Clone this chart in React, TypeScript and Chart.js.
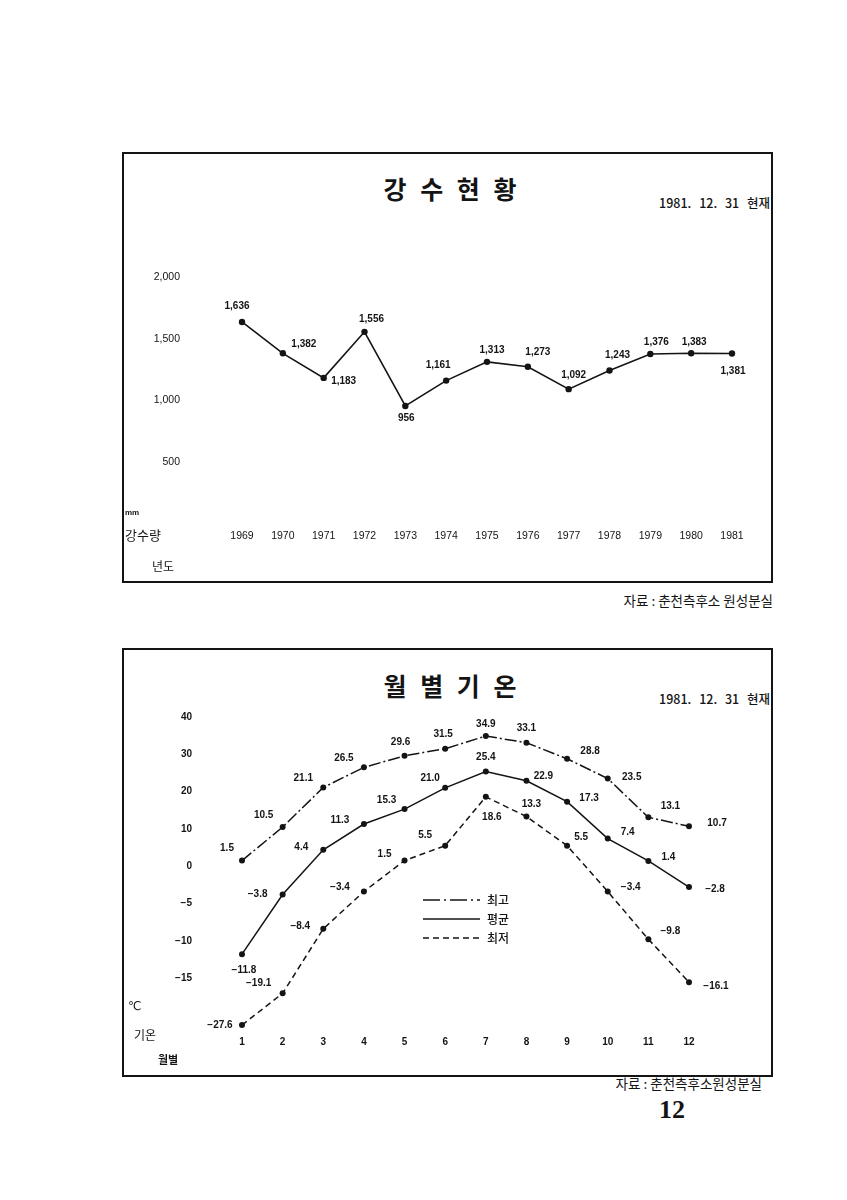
import React, { useEffect, useRef } from 'react';
import { Chart, registerables, LinearScale } from 'chart.js';

Chart.register(...registerables);

// ---------- Data: precipitation (강수현황) ----------
const years = ['1969', '1970', '1971', '1972', '1973', '1974', '1975', '1976', '1977', '1978', '1979', '1980', '1981'];
const rainfall = [1636, 1382, 1183, 1556, 956, 1161, 1313, 1273, 1092, 1243, 1376, 1383, 1381];
const rainTicks = [500, 1000, 1500, 2000];

// ---------- Data: monthly temperature (월별기온) ----------
const months = ['1', '2', '3', '4', '5', '6', '7', '8', '9', '10', '11', '12'];
const tempMax = [1.5, 10.5, 21.1, 26.5, 29.6, 31.5, 34.9, 33.1, 28.8, 23.5, 13.1, 10.7];
const tempMean = [-11.8, -3.8, 4.4, 11.3, 15.3, 21.0, 25.4, 22.9, 17.3, 7.4, 1.4, -2.8];
const tempMin = [-27.6, -19.1, -8.4, -3.4, 1.5, 5.5, 18.6, 13.3, 5.5, -3.4, -9.8, -16.1];
const tempSeriesNames = ['최고', '평균', '최저'];
const tempTicks = [40, 30, 20, 10, 0, -5, -10, -15];
const tempAxisMin = -30;

// ---------- Label placement (offsets from each point, px) ----------
const rainLabelOffsets: [number, number][] = [
  [-5, -16], [21, -9], [20, 3], [7, -13], [1, 12], [-8, -15], [5, -12], [10, -15], [5, -14], [8, -15], [6, -12], [3, -11], [1, 18],
];
const maxLabelOffsets: [number, number][] = [
  [-15, -12], [-19, -12], [-20, -9], [-20, -9], [-4, -14], [-2, -14], [0, -12], [0, -14], [23, -8], [24, -1], [22, -11], [28, -3],
];
const meanLabelOffsets: [number, number][] = [
  [2, 16], [-25, 0], [-22, -3], [-24, -4], [-18, -9], [-15, -10], [0, -14], [17, -5], [22, -3], [20, -6], [20, -4], [26, 2],
];
const minLabelOffsets: [number, number][] = [
  [-22, 0], [-24, -10], [-23, -3], [-24, -4], [-20, -6], [-20, -10], [6, 20], [5, -12], [14, -8], [23, -4], [22, -8], [27, 4],
];

const INK = '#141414';
const NUM_FONT = "'Liberation Sans', 'DejaVu Sans', sans-serif";
const KR_FONT = "'Noto Sans CJK KR', 'Noto Sans', sans-serif";

// Axis with equal spacing per labelled tick (10 per step above zero, 5 below)
const tempBreaks = [tempAxisMin, ...[...tempTicks].sort((a, b) => a - b)];
const tempWeights = tempBreaks.slice(1).map((_, i) => (i === 0 ? 1.5 : 1));

class SteppedScale extends LinearScale {
  static id = 'stepped';
  static defaults = { ticks: { callback: (v: any) => String(v) } };
  determineDataLimits() {
    (this as any).min = tempBreaks[0];
    (this as any).max = tempBreaks[tempBreaks.length - 1];
  }
  buildTicks() {
    return tempTicks.map((v) => ({ value: v })) as any;
  }
  toDecimal(v: number) {
    const b = tempBreaks;
    const w = tempWeights;
    const total = w.reduce((a, c) => a + c, 0);
    let i = 0;
    while (i < b.length - 2 && v > b[i + 1]) i++;
    let cum = 0;
    for (let k = 0; k < i; k++) cum += w[k];
    const frac = (v - b[i]) / (b[i + 1] - b[i]);
    return (cum + w[i] * frac) / total;
  }
  fromDecimal(d: number) {
    const b = tempBreaks;
    const w = tempWeights;
    const total = w.reduce((a, c) => a + c, 0);
    let t = d * total;
    let i = 0;
    while (i < w.length - 1 && t > w[i]) {
      t -= w[i];
      i++;
    }
    return b[i] + (t / w[i]) * (b[i + 1] - b[i]);
  }
  getPixelForValue(value: any) {
    if (value === null || value === undefined || isNaN(value)) return NaN;
    return this.getPixelForDecimal(this.toDecimal(Number(value)));
  }
  getValueForPixel(pixel: number) {
    return this.fromDecimal(this.getDecimalForPixel(pixel));
  }
}
Chart.register(SteppedScale as any);

function fmtTemp(v: number) {
  const s = Math.abs(v).toFixed(1);
  return v < 0 ? '−' + s : s;
}

function makeLabelPlugin(offsets: [number, number][][], fmt: (v: number) => string, font: string) {
  return {
    id: 'pointLabels',
    afterDatasetsDraw(chart: any) {
      const ctx = chart.ctx;
      ctx.save();
      ctx.font = font;
      ctx.fillStyle = INK;
      ctx.textAlign = 'center';
      ctx.textBaseline = 'middle';
      chart.data.datasets.forEach((ds: any, di: number) => {
        const meta = chart.getDatasetMeta(di);
        meta.data.forEach((pt: any, i: number) => {
          const [dx, dy] = offsets[di][i];
          ctx.fillText(fmt(ds.data[i]), pt.x + dx, pt.y + dy);
        });
      });
      ctx.restore();
    },
  };
}

const tempLegendPlugin = {
  id: 'tempLegend',
  afterDatasetsDraw(chart: any) {
    const ctx = chart.ctx;
    const area = chart.chartArea;
    const x0 = area.left + 181;
    const y0 = area.top + 183;
    ctx.save();
    chart.data.datasets.forEach((ds: any, i: number) => {
      const y = y0 + i * 19;
      ctx.beginPath();
      ctx.setLineDash(ds.legendDash || ds.borderDash || []);
      ctx.lineWidth = 1.5;
      ctx.strokeStyle = INK;
      ctx.moveTo(x0, y);
      ctx.lineTo(x0 + 57, y);
      ctx.stroke();
      ctx.setLineDash([]);
      ctx.fillStyle = INK;
      ctx.font = `500 12px ${KR_FONT}`;
      ctx.textAlign = 'left';
      ctx.textBaseline = 'middle';
      ctx.fillText(ds.label, x0 + 64, y);
    });
    ctx.restore();
  },
};

function ChartCanvas({ makeConfig, left, top, width, height }: any) {
  const ref = useRef<HTMLCanvasElement>(null);
  useEffect(() => {
    const chart = new Chart(ref.current as HTMLCanvasElement, makeConfig());
    return () => chart.destroy();
  }, []);
  return (
    <canvas
      ref={ref}
      width={width}
      height={height}
      style={{ position: 'absolute', left, top, width, height }}
    />
  );
}

function fixAxis(width: number) {
  return (s: any) => {
    s.width = width;
    s.paddingTop = 0;
    s.paddingBottom = 0;
  };
}

function rainConfig(): any {
  return {
    type: 'line',
    data: {
      labels: years,
      datasets: [
        {
          label: '강수량',
          data: rainfall,
          borderColor: INK,
          borderWidth: 1.6,
          pointRadius: 3.2,
          pointBackgroundColor: INK,
          pointBorderWidth: 0,
          tension: 0,
          clip: false,
        },
      ],
    },
    options: {
      responsive: false,
      animation: false,
      events: [],
      layout: { padding: { top: 15, right: 38, bottom: 0, left: 0 } },
      plugins: { legend: { display: false }, tooltip: { enabled: false } },
      scales: {
        x: {
          type: 'category',
          offset: false,
          grid: { display: false, drawTicks: false },
          border: { display: false },
          ticks: { padding: 6, color: INK, autoSkip: false, maxRotation: 0, font: { family: NUM_FONT, size: 10.5 } },
          afterFit: (s: any) => { s.height = 28; },
        },
        y: {
          min: 0,
          max: 2000,
          grid: { display: false, drawTicks: false },
          border: { display: false },
          afterBuildTicks: (s: any) => { s.ticks = rainTicks.map((v) => ({ value: v })); },
          ticks: {
            padding: 62,
            color: INK,
            font: { family: NUM_FONT, size: 10.5 },
            callback: (v: any) => Number(v).toLocaleString('en-US'),
          },
          afterFit: fixAxis(112),
        },
      },
    },
    plugins: [makeLabelPlugin([rainLabelOffsets], (v) => v.toLocaleString('en-US'), `bold 10px ${NUM_FONT}`)],
  };
}

function tempConfig(): any {
  const base = {
    borderColor: INK,
    borderWidth: 1.5,
    pointRadius: 3,
    pointBackgroundColor: INK,
    pointBorderWidth: 0,
    tension: 0,
    clip: false,
  };
  return {
    type: 'line',
    data: {
      labels: months,
      datasets: [
        { ...base, label: tempSeriesNames[0], data: tempMax, borderDash: [12, 3, 2, 3], legendDash: [17, 4, 2, 4] },
        { ...base, label: tempSeriesNames[1], data: tempMean },
        { ...base, label: tempSeriesNames[2], data: tempMin, borderDash: [6, 4] },
      ],
    },
    options: {
      responsive: false,
      animation: false,
      events: [],
      layout: { padding: { top: 17, right: 66, bottom: 0, left: 0 } },
      plugins: { legend: { display: false }, tooltip: { enabled: false } },
      scales: {
        x: {
          type: 'category',
          offset: false,
          grid: { display: false, drawTicks: false },
          border: { display: false },
          ticks: { padding: 2, color: INK, autoSkip: false, maxRotation: 0, font: { family: NUM_FONT, size: 10, weight: 'bold' } },
          afterFit: (s: any) => { s.height = 26; },
        },
        y: {
          type: 'stepped',
          grid: { display: false, drawTicks: false },
          border: { display: false },
          ticks: {
            padding: 50,
            color: INK,
            font: { family: NUM_FONT, size: 10, weight: 'bold' },
            callback: (v: any) => (Number(v) < 0 ? '−' + Math.abs(Number(v)) : String(v)),
          },
          afterFit: fixAxis(112),
        },
      },
    },
    plugins: [
      makeLabelPlugin([maxLabelOffsets, meanLabelOffsets, minLabelOffsets], fmtTemp, `bold 10px ${NUM_FONT}`),
      tempLegendPlugin,
    ],
  };
}

function Txt({ x, y, size, bold, align = 'left', family = KR_FONT, children, extra }: any) {
  const style: any = {
    position: 'absolute',
    top: y - size * 0.6,
    fontSize: size,
    lineHeight: `${size * 1.2}px`,
    fontWeight: bold ? 700 : 400,
    whiteSpace: 'nowrap',
    fontFamily: family,
    color: INK,
  };
  if (align === 'left') style.left = x;
  else if (align === 'right') style.right = 847 - x;
  else {
    style.left = x - 300;
    style.width = 600;
    style.textAlign = 'center';
  }
  return <div style={{ ...style, ...(extra || {}) }}>{children}</div>;
}

const dateStyle = { wordSpacing: 5, fontWeight: 500 };

export default function App() {
  return (
    <div
      style={{
        position: 'absolute',
        left: 0,
        top: 0,
        width: 847,
        height: 1200,
        background: '#fff',
        overflow: 'hidden',
      }}
    >
      {/* Box 1 */}
      <div style={{ position: 'absolute', left: 122, top: 152, width: 651, height: 431, border: `2px solid ${INK}`, boxSizing: 'border-box' }} />
      <Txt x={452} y={188} size={25} bold align="center" extra={{ letterSpacing: 4 }}>강 수 현 황</Txt>
      <Txt x={770} y={202} size={12.5} align="right" extra={dateStyle}>1981. 12. 31 현재</Txt>
      <ChartCanvas makeConfig={rainConfig} left={130} top={262} width={640} height={290} />
      <Txt x={125} y={513} size={8} bold family={NUM_FONT}>mm</Txt>
      <Txt x={125} y={535} size={13}>강수량</Txt>
      <Txt x={152} y={566} size={12}>년도</Txt>
      <Txt x={773} y={600} size={13.5} align="right">자료 : 춘천측후소 원성분실</Txt>

      {/* Box 2 */}
      <div style={{ position: 'absolute', left: 122, top: 648, width: 651, height: 429, border: `2px solid ${INK}`, boxSizing: 'border-box' }} />
      <Txt x={452} y={685} size={25} bold align="center" extra={{ letterSpacing: 4 }}>월 별 기 온</Txt>
      <Txt x={770} y={698} size={12.5} align="right" extra={dateStyle}>1981. 12. 31 현재</Txt>
      <ChartCanvas makeConfig={tempConfig} left={130} top={700} width={625} height={360} />
      <Txt x={128} y={1006} size={12} family={NUM_FONT}>℃</Txt>
      <Txt x={134} y={1035} size={12}>기온</Txt>
      <Txt x={158} y={1060} size={11} bold>월별</Txt>
      <Txt x={762} y={1083} size={13.5} align="right">자료 : 춘천측후소원성분실</Txt>
      <Txt x={672} y={1110} size={26} bold align="center" family="'Liberation Serif', 'DejaVu Serif', serif">12</Txt>
    </div>
  );
}
